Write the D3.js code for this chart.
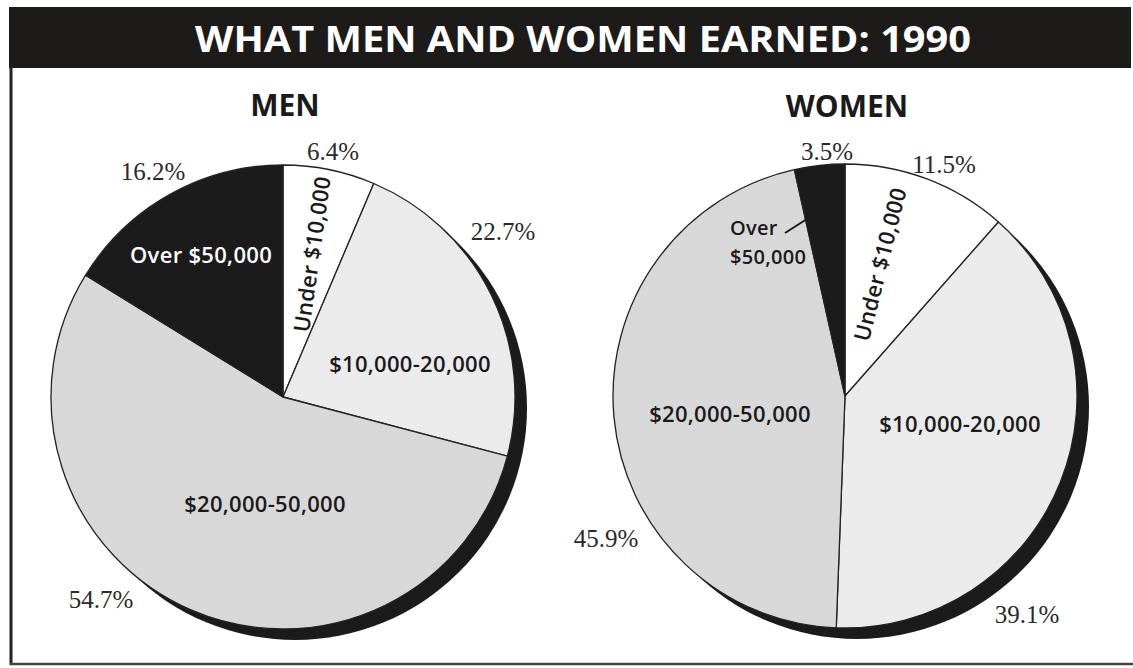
<!DOCTYPE html>
<html><head><meta charset="utf-8">
<script src="https://cdn.jsdelivr.net/npm/d3@7/dist/d3.min.js"></script>
<style>body{margin:0;background:#fff;} svg{display:block}</style>
</head><body><svg id="c" width="1133" height="668"></svg>
<script>
// ---- data ----
const chartTitle = "WHAT MEN AND WOMEN EARNED: 1990";
const groups = ["MEN", "WOMEN"];
const categories = ["Under $10,000", "$10,000-20,000", "$20,000-50,000", "Over $50,000"];
const menValues = [6.4, 22.7, 54.7, 16.2];
const womenValues = [11.5, 39.1, 45.9, 3.5];

// ---- layout / style ----
const W = 1133, H = 668;
const colors = d3.scaleOrdinal().domain(categories).range(["#ffffff", "#ebebeb", "#d8d8d8", "#1b1b1b"]);
const R = 232;
const shadowOffset = [12, 11];
const pies = [
  { name: groups[0], values: menValues, cx: 283, cy: 397, titleY: 116,
    pct: [[50, -237], [220, -157], [-182, 211], [-130, -217]],
    inner: [
      { lines: ["Under $10,000"], dx: 28, dy: -143, rot: -82, fill: "#1a1a1a", anchor: "middle", size: 22 },
      { lines: ["$10,000-20,000"], dx: 127, dy: -25, rot: 0, fill: "#1a1a1a", anchor: "middle", size: 22 },
      { lines: ["$20,000-50,000"], dx: -18, dy: 115, rot: 0, fill: "#1a1a1a", anchor: "middle", size: 22 },
      { lines: ["Over $50,000"], dx: -82, dy: -134, rot: 0, fill: "#ffffff", anchor: "middle", size: 22 }
    ], leader: null },
  { name: groups[1], values: womenValues, cx: 845, cy: 396, titleY: 117,
    pct: [[99, -223], [182, 227], [-239, 151], [-18, -236]],
    inner: [
      { lines: ["Under $10,000"], dx: 34, dy: -132, rot: -76, fill: "#1a1a1a", anchor: "middle", size: 22 },
      { lines: ["$10,000-20,000"], dx: 115, dy: 36, rot: 0, fill: "#1a1a1a", anchor: "middle", size: 22 },
      { lines: ["$20,000-50,000"], dx: -115, dy: 26, rot: 0, fill: "#1a1a1a", anchor: "middle", size: 22 },
      { lines: ["Over", "$50,000"], dx: -115, dy: -161, rot: 0, fill: "#1a1a1a", anchor: "start", size: 20, lh: 29 }
    ], leader: [[-60, -163], [-24, -186]] }
];

const svg = d3.select("#c");
svg.append("rect").attr("width", W).attr("height", H).attr("fill", "#fff");

// title bar
svg.append("rect").attr("x", 9).attr("y", 7).attr("width", 1122).attr("height", 61).attr("fill", "#1d1b1a");
svg.append("text").attr("x", 583).attr("y", 52).attr("text-anchor", "middle")
  .attr("font-family", "'Open Sans', sans-serif").attr("font-weight", 700).attr("font-size", 36)
  .attr("fill", "#fff").attr("textLength", 776).attr("lengthAdjust", "spacingAndGlyphs")
  .text(chartTitle);

// frame
svg.append("line").attr("x1", 11).attr("x2", 11).attr("y1", 66).attr("y2", 665).attr("stroke", "#222").attr("stroke-width", 3);
svg.append("line").attr("x1", 10).attr("x2", W).attr("y1", 664).attr("y2", 664).attr("stroke", "#444").attr("stroke-width", 2.5);

const pie = d3.pie().sort(null).value(d => d.value);
const arc = d3.arc().innerRadius(0).outerRadius(R);

pies.forEach(p => {
  const g = svg.append("g").attr("transform", `translate(${p.cx},${p.cy})`);
  g.append("circle").attr("cx", shadowOffset[0]).attr("cy", shadowOffset[1]).attr("r", R).attr("fill", "#1b1b1b");
  const data = categories.map((c, i) => ({ cat: c, value: p.values[i] }));
  const arcs = pie(data);
  g.selectAll("path.slice").data(arcs).join("path").attr("class", "slice")
    .attr("d", arc).attr("fill", d => colors(d.data.cat))
    .attr("stroke", "#222").attr("stroke-width", 1.3).attr("stroke-linejoin", "round");
  svg.append("text").attr("x", p.cx + 2).attr("y", p.titleY).attr("text-anchor", "middle")
    .attr("font-family", "'Open Sans', sans-serif").attr("font-weight", 700).attr("font-size", 30)
    .attr("fill", "#1a1a1a").text(p.name);
  g.selectAll("text.pct").data(arcs).join("text").attr("class", "pct")
    .attr("x", (d, i) => p.pct[i][0]).attr("y", (d, i) => p.pct[i][1])
    .attr("text-anchor", "middle").attr("font-family", "'Liberation Serif', 'Times New Roman', serif")
    .attr("font-size", 25).attr("fill", "#2a2a2a")
    .text(d => d.data.value.toFixed(1) + "%");
  p.inner.forEach(L => {
    L.lines.forEach((ln, j) => {
      const tx = g.append("text")
        .attr("transform", `translate(${L.dx},${L.dy + j * (L.lh || 0)}) rotate(${L.rot})`)
        .attr("text-anchor", L.anchor).attr("font-family", "'Open Sans', sans-serif")
        .attr("font-weight", 600).attr("font-size", L.size).attr("letter-spacing", 0.3)
        .attr("fill", L.fill).text(ln);
      if (L.rot !== 0) tx.attr("dominant-baseline", "central");
    });
  });
  if (p.leader) {
    g.append("line").attr("x1", p.leader[0][0]).attr("y1", p.leader[0][1])
      .attr("x2", p.leader[1][0]).attr("y2", p.leader[1][1]).attr("stroke", "#1a1a1a").attr("stroke-width", 2);
  }
});
</script></body></html>
